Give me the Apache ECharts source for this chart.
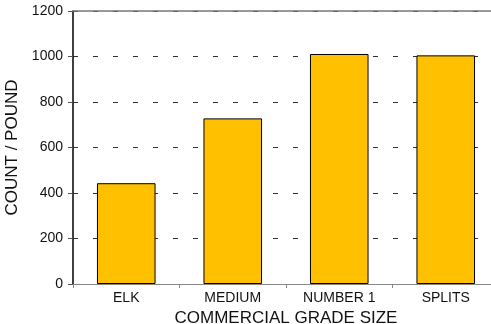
<!DOCTYPE html>
<html><head><meta charset="utf-8">
<script src="https://cdn.jsdelivr.net/npm/echarts@6/dist/echarts.min.js"></script>
<style>html,body{margin:0;padding:0;background:#fff}#c{width:491px;height:324px}</style>
</head><body><div id="c"></div>
<script>
var categories = ['ELK', 'MEDIUM', 'NUMBER 1', 'SPLITS'];
var counts = [443, 728, 1011, 1005];
var yTicks = [0, 200, 400, 600, 800, 1000, 1200];
var xTitle = 'COMMERCIAL GRADE SIZE';
var yTitle = 'COUNT / POUND';

var chart = echarts.init(document.getElementById('c'), null, {renderer: 'canvas'});
var font = 'Liberation Sans, Arial, sans-serif';
chart.setOption({
  animation: false,
  grid: {left: 73, top: 11, width: 426, height: 273, containLabel: false, outerBoundsMode: 'none'},
  xAxis: [{
    type: 'category', data: categories, position: 'bottom',
    axisLine: {lineStyle: {color: '#888', width: 1}},
    axisTick: {show: true, length: 4, lineStyle: {color: '#888'}},
    axisLabel: {color: '#111', fontSize: 14, fontFamily: font, margin: 7},
    name: xTitle, nameLocation: 'middle', nameGap: 21,
    nameTextStyle: {color: '#111', fontSize: 17, fontFamily: font}
  }, {
    type: 'category', data: categories, position: 'top',
    axisLine: {show: true, lineStyle: {color: '#777', width: 1.5}},
    axisTick: {show: false}, axisLabel: {show: false}
  }],
  yAxis: {
    type: 'value', min: yTicks[0], max: yTicks[yTicks.length - 1], interval: yTicks[1] - yTicks[0],
    axisLine: {show: true, lineStyle: {color: '#000', width: 1.5}},
    axisTick: {show: true, length: 5, inside: false, lineStyle: {color: '#555'}},
    axisLabel: {color: '#111', fontSize: 14, fontFamily: font, margin: 10, formatter: function (v) { return String(v); }},
    splitLine: {show: true, lineStyle: {color: '#333', type: [5, 15], width: 1}},
    name: yTitle, nameLocation: 'middle', nameGap: 43, nameRotate: 90,
    nameTextStyle: {color: '#111', fontSize: 17, fontFamily: font}
  },
  series: [{
    type: 'bar', data: counts, barWidth: '55%',
    itemStyle: {color: '#FFC000', borderColor: '#000', borderWidth: 1}
  }]
});
</script></body></html>
